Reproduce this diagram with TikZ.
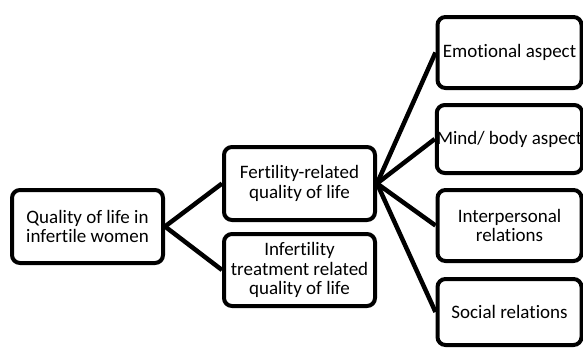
\documentclass[tikz,border=0pt]{standalone}
\usepackage{fontspec}
\setmainfont{Carlito}[Ligatures=NoCommon]
\begin{document}
\begin{tikzpicture}[x=1pt,y=-1pt,
  box/.style={draw=black,line width=4pt,rounded corners=8pt,fill=white,align=center,
    font=\fontsize{19}{19.5}\selectfont,inner sep=0pt},
  link/.style={draw=black,line width=4.5pt}]
\useasboundingbox (0,0) rectangle (583,351);
\node[box,minimum width=151pt,minimum height=73pt] (qol) at (87.5,226.5) {Quality of life in\\infertile women};
\node[box,minimum width=151pt,minimum height=73pt] (fert) at (299.5,183.5) {Fertility-related\\quality of life};
\node[box,minimum width=151pt,minimum height=72pt] (treat) at (299.5,270) {Infertility\\treatment related\\quality of life};
\node[box,minimum width=144pt,minimum height=71pt] (emo) at (509.5,52.5) {Emotional aspect};
\node[box,minimum width=144pt,minimum height=68pt] (mind) at (509.5,139) {Mind/ body aspect};
\node[box,minimum width=144pt,minimum height=71pt] (inter) at (509.5,225.5) {Interpersonal\\relations};
\node[box,minimum width=144pt,minimum height=66pt] (soc) at (509.5,312) {Social relations};
\draw[link] (qol.east) -- (fert.west);
\draw[link] (qol.east) -- (treat.west);
\draw[link] (fert.east) -- (emo.west);
\draw[link] (fert.east) -- (mind.west);
\draw[link] (fert.east) -- (inter.west);
\draw[link] (fert.east) -- (soc.west);
\end{tikzpicture}
\end{document}
